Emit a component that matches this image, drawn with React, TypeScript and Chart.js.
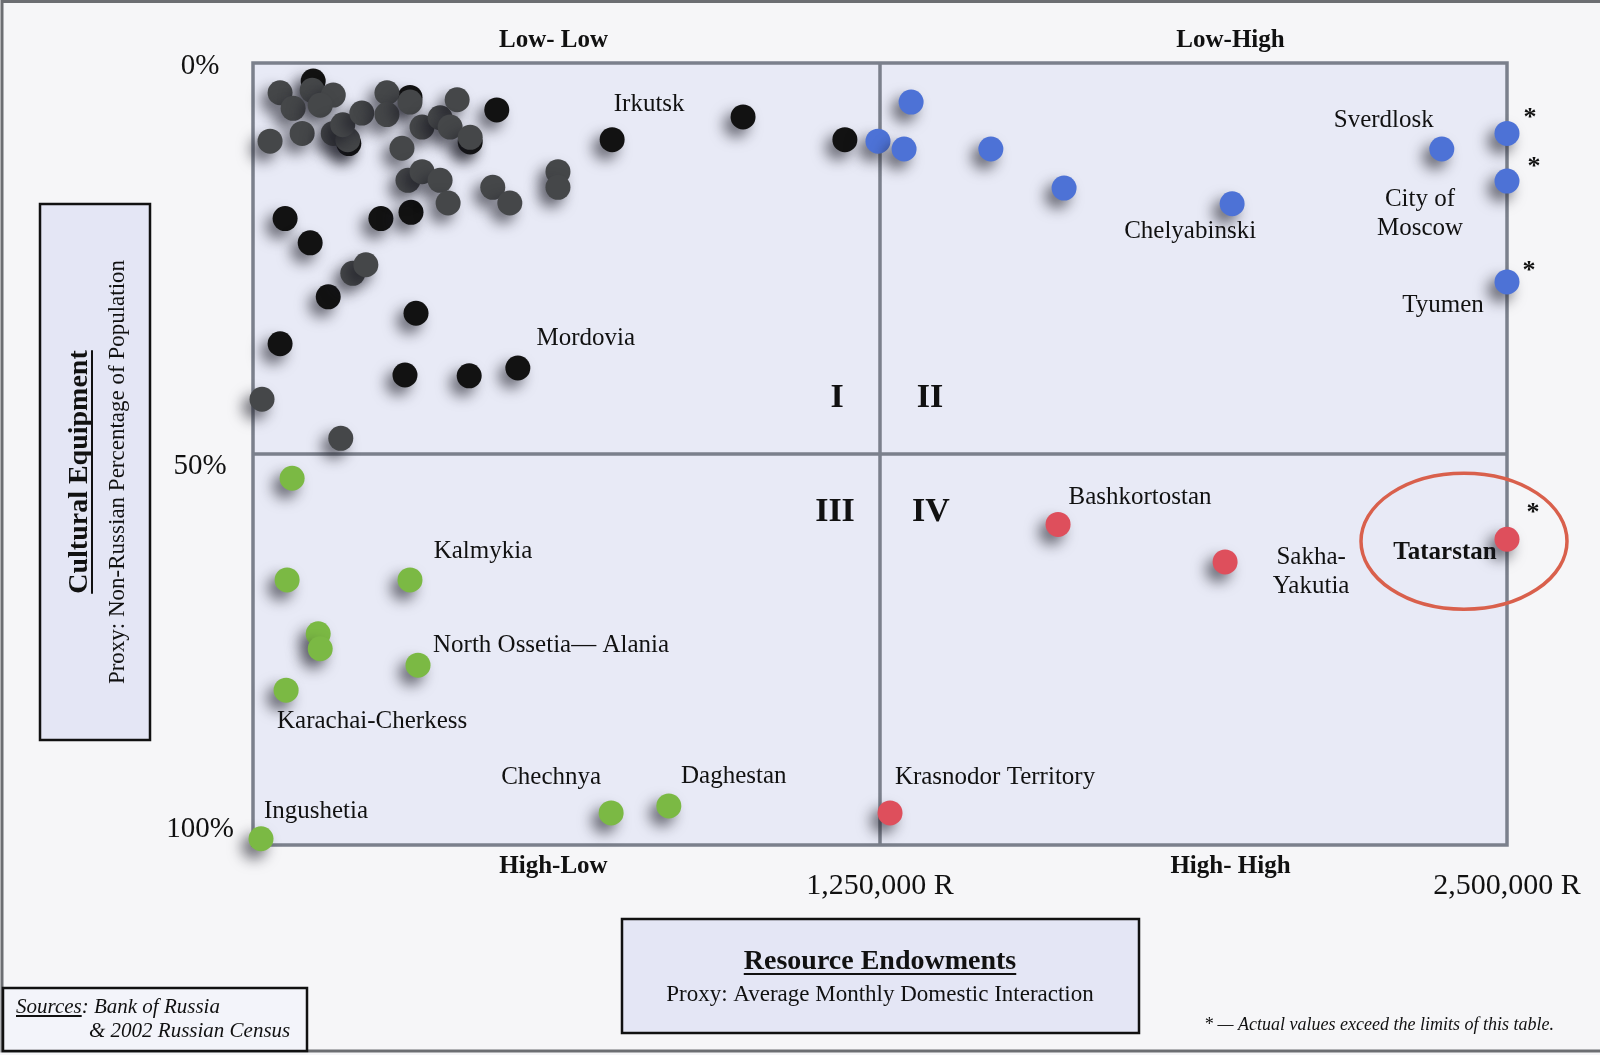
import React, { useEffect, useRef } from "react";
import { Chart, registerables } from "chart.js";

Chart.register(...registerables);

// ---------- scale definition ----------
const X_MAX = 2500000;
const Y_MAX = 100;
const X_SPLIT = 1250000;
const Y_SPLIT = 50;

const xTickValues = [1250000, 2500000];
const xTickLabels = ["1,250,000 R", "2,500,000 R"];
const yTickValues = [0, 50, 100];
const yTickLabels = ["0%", "50%", "100%"];

const quadrantNames = ["Low- Low", "Low-High", "High-Low", "High- High"];
const quadrantNumerals = ["I", "II", "III", "IV"];

// ---------- data (x: average monthly domestic interaction, R; y: non-Russian %) ----------
const grayX = [54000, 118000, 160000, 80000, 134000, 98000, 34000, 160000, 189000, 179000, 217000, 267000, 267000, 313000, 337000, 373000, 407000, 393000, 433000, 297000, 309000, 337000, 373000, 389000, 478000, 512000, 608000, 608000, 199000, 225000, 18000, 175000];
const grayY = [3.8, 3.5, 4.1, 5.8, 5.4, 9.0, 10.0, 9.0, 9.8, 7.9, 6.4, 3.8, 6.6, 5.0, 8.2, 7.0, 4.7, 8.2, 9.5, 10.9, 15.0, 13.9, 15.0, 17.9, 15.9, 17.9, 13.9, 15.9, 26.9, 25.8, 43.0, 48.0];

const blackX = [486000, 716000, 977000, 1180000, 64000, 114000, 255000, 315000, 150000, 325000, 54000, 303000, 431000, 528000, 120000, 191000, 433000, 313000];
const blackY = [6.0, 9.8, 6.9, 9.8, 19.9, 23.0, 19.9, 19.1, 29.9, 32.0, 35.9, 39.9, 40.0, 39.0, 2.3, 10.3, 10.1, 4.4];

const blueX = [1312000, 1246000, 1298000, 1471000, 1617000, 1952000, 2370000, 2500000, 2500000, 2500000];
const blueY = [5.0, 10.0, 11.0, 11.0, 16.0, 18.0, 11.0, 9.0, 15.1, 28.0];

const redX = [1270000, 1605000, 1938000, 2500000];
const redY = [95.9, 59.0, 63.8, 60.9];

const greenX = [78000, 68000, 313000, 130000, 134000, 329000, 66000, 16000, 714000, 829000];
const greenY = [53.1, 66.1, 66.1, 73.0, 74.9, 77.0, 80.2, 99.2, 95.9, 95.0];

const seriesValues: Record<string, [number[], number[]]> = {
  gray: [grayX, grayY],
  black: [blackX, blackY],
  blue: [blueX, blueY],
  red: [redX, redY],
  green: [greenX, greenY],
};

// points whose actual values exceed the table
const exceedMarks = [
  { series: "blue", index: 7, dx: 23, dy: -21 },
  { series: "blue", index: 8, dx: 27, dy: -20 },
  { series: "blue", index: 9, dx: 22, dy: -17 },
  { series: "red", index: 3, dx: 26, dy: -32 },
];

// ---------- annotation layout (pixel offsets from the marks) ----------
const regionLabels = [
  { lines: ["Irkutsk"], series: "black", index: 1, dx: 37, dy: -35 },
  { lines: ["Mordovia"], series: "black", index: 13, dx: 68, dy: -30 },
  { lines: ["Sverdlosk"], series: "blue", index: 6, dx: -58, dy: -29 },
  { lines: ["Chelyabinski"], series: "blue", index: 5, dx: -42, dy: 28 },
  { lines: ["City of", "Moscow"], series: "blue", index: 8, dx: -87, dy: 18 },
  { lines: ["Tyumen"], series: "blue", index: 9, dx: -64, dy: 23 },
  { lines: ["Bashkortostan"], series: "red", index: 1, dx: 82, dy: -27 },
  { lines: ["Sakha-", "Yakutia"], series: "red", index: 2, dx: 86, dy: -4 },
  { lines: ["Tatarstan"], series: "red", index: 3, dx: -62, dy: 13, bold: true },
  { lines: ["Kalmykia"], series: "green", index: 2, dx: 73, dy: -28 },
  { lines: ["North Ossetia\u2014 Alania"], series: "green", index: 5, dx: 133, dy: -20 },
  { lines: ["Karachai-Cherkess"], series: "green", index: 6, dx: 86, dy: 31 },
  { lines: ["Chechnya"], series: "green", index: 8, dx: -60, dy: -36 },
  { lines: ["Daghestan"], series: "green", index: 9, dx: 65, dy: -29 },
  { lines: ["Ingushetia"], series: "green", index: 7, dx: 55, dy: -27 },
  { lines: ["Krasnodor Territory"], series: "red", index: 0, dx: 105, dy: -36 },
];

const SERIF = '"Liberation Serif", "Times New Roman", serif';
const COLORS = {
  gray: "#454749",
  black: "#121212",
  blue: "#4d72d6",
  red: "#de4f5c",
  green: "#7bb944",
  page: "#f6f6f8",
  plot: "#e8eaf6",
  box: "#e4e6f5",
  line: "#7b808c",
  ink: "#111111",
  ellipse: "#d9604c",
};

function toPoints(xs: number[], ys: number[]) {
  return xs.map((x, i) => ({ x, y: ys[i] }));
}

function drawText(ctx: CanvasRenderingContext2D, s: string, x: number, y: number, font: string, align: CanvasTextAlign = "center") {
  ctx.font = font;
  ctx.fillStyle = COLORS.ink;
  ctx.textAlign = align;
  ctx.textBaseline = "middle";
  ctx.fillText(s, x, y);
}

function underline(ctx: CanvasRenderingContext2D, s: string, x: number, y: number, font: string, align: "center" | "left", off: number) {
  ctx.font = font;
  const w = ctx.measureText(s).width;
  const x0 = align === "center" ? x - w / 2 : x;
  ctx.strokeStyle = COLORS.ink;
  ctx.lineWidth = 2;
  ctx.beginPath();
  ctx.moveTo(x0, y + off);
  ctx.lineTo(x0 + w, y + off);
  ctx.stroke();
}

function box(ctx: CanvasRenderingContext2D, x: number, y: number, w: number, h: number, fill: string) {
  ctx.fillStyle = fill;
  ctx.fillRect(x, y, w, h);
  ctx.strokeStyle = COLORS.ink;
  ctx.lineWidth = 2.5;
  ctx.strokeRect(x, y, w, h);
}

function px(chart: any, series: string, index: number) {
  const [xs, ys] = seriesValues[series];
  return {
    x: chart.scales.x.getPixelForValue(xs[index]),
    y: chart.scales.y.getPixelForValue(ys[index]),
  };
}

const decorPlugin = {
  id: "decor",
  beforeDraw(chart: any) {
    const { ctx, chartArea: a, scales } = chart;
    ctx.save();
    ctx.fillStyle = COLORS.page;
    ctx.fillRect(0, 0, chart.width, chart.height);
    // outer frame
    ctx.strokeStyle = "#6c6e72";
    ctx.lineWidth = 3;
    ctx.beginPath();
    ctx.moveTo(chart.width, 1.5);
    ctx.lineTo(2, 1.5);
    ctx.lineTo(2, chart.height - 4);
    ctx.lineTo(chart.width, chart.height - 4);
    ctx.stroke();
    // plot area
    ctx.fillStyle = COLORS.plot;
    ctx.fillRect(a.left, a.top, a.right - a.left, a.bottom - a.top);
    const cx = scales.x.getPixelForValue(X_SPLIT);
    const cy = scales.y.getPixelForValue(Y_SPLIT);
    ctx.strokeStyle = COLORS.line;
    ctx.lineWidth = 3.5;
    ctx.strokeRect(a.left, a.top, a.right - a.left, a.bottom - a.top);
    ctx.beginPath();
    ctx.moveTo(cx, a.top);
    ctx.lineTo(cx, a.bottom);
    ctx.moveTo(a.left, cy);
    ctx.lineTo(a.right, cy);
    ctx.stroke();
    ctx.restore();
  },
  beforeDatasetsDraw(chart: any) {
    const { ctx } = chart;
    ctx.save();
    // region labels (behind the marks)
    for (const l of regionLabels) {
      const p = px(chart, l.series, l.index);
      const font = `${l.bold ? "bold " : ""}25px ${SERIF}`;
      l.lines.forEach((s, i) => drawText(ctx, s, p.x + l.dx, p.y + l.dy + i * 29, font));
    }
    ctx.restore();
    ctx.save();
    ctx.shadowColor = "rgba(25,25,35,0.6)";
    ctx.shadowBlur = 14;
    ctx.shadowOffsetX = -7;
    ctx.shadowOffsetY = 8;
  },
  afterDatasetsDraw(chart: any) {
    chart.ctx.restore();
  },
  afterDraw(chart: any) {
    const { ctx, chartArea: a, scales } = chart;
    ctx.save();
    const cx = scales.x.getPixelForValue(X_SPLIT);
    const cy = scales.y.getPixelForValue(Y_SPLIT);

    // tick labels
    const yOffsets = [3, 12, -16];
    yTickValues.forEach((v, i) => {
      drawText(ctx, yTickLabels[i], a.left - 53, scales.y.getPixelForValue(v) + yOffsets[i], `29px ${SERIF}`);
    });
    xTickValues.forEach((v, i) => {
      drawText(ctx, xTickLabels[i], scales.x.getPixelForValue(v), a.bottom + 41, `30px ${SERIF}`);
    });

    // quadrant names
    const qb = `bold 25px ${SERIF}`;
    const leftX = (a.left + cx) / 2 - 13;
    const rightX = (cx + a.right) / 2 + 37;
    drawText(ctx, quadrantNames[0], leftX, a.top - 22, qb);
    drawText(ctx, quadrantNames[1], rightX, a.top - 22, qb);
    drawText(ctx, quadrantNames[2], leftX, a.bottom + 22, qb);
    drawText(ctx, quadrantNames[3], rightX, a.bottom + 22, qb);

    // roman numerals
    const nb = `bold 34px ${SERIF}`;
    drawText(ctx, quadrantNumerals[0], cx - 43, cy - 56, nb);
    drawText(ctx, quadrantNumerals[1], cx + 50, cy - 56, nb);
    drawText(ctx, quadrantNumerals[2], cx - 45, cy + 58, nb);
    drawText(ctx, quadrantNumerals[3], cx + 51, cy + 58, nb);

    // asterisks
    for (const m of exceedMarks) {
      const p = px(chart, m.series, m.index);
      drawText(ctx, "*", p.x + m.dx, p.y + m.dy + 6, `bold 26px ${SERIF}`);
    }

    // Tatarstan ellipse
    const t = px(chart, "red", 3);
    ctx.strokeStyle = COLORS.ellipse;
    ctx.lineWidth = 3.5;
    ctx.beginPath();
    ctx.ellipse(t.x - 43, t.y + 2, 103, 68, 0, 0, Math.PI * 2);
    ctx.stroke();

    // y axis title box
    box(ctx, 40, 204, 110, 536, COLORS.box);
    ctx.save();
    ctx.translate(80, 472);
    ctx.rotate(-Math.PI / 2);
    const tf = `bold 28px ${SERIF}`;
    drawText(ctx, "Cultural Equipment", 0, 0, tf);
    underline(ctx, "Cultural Equipment", 0, 0, tf, "center", 12);
    ctx.restore();
    ctx.save();
    ctx.translate(118, 472);
    ctx.rotate(-Math.PI / 2);
    drawText(ctx, "Proxy: Non-Russian Percentage of Population", 0, 0, `23px ${SERIF}`);
    ctx.restore();

    // x axis title box
    box(ctx, 622, 919, 517, 114, COLORS.box);
    drawText(ctx, "Resource Endowments", 880, 962, tf);
    underline(ctx, "Resource Endowments", 880, 962, tf, "center", 12);
    drawText(ctx, "Proxy: Average Monthly Domestic Interaction", 880, 995, `23px ${SERIF}`);

    // sources box
    box(ctx, 3, 988, 304, 63, "#f3f4fa");
    const sf = `italic 21px ${SERIF}`;
    drawText(ctx, "Sources", 16, 1007, sf, "left");
    underline(ctx, "Sources", 16, 1007, sf, "left", 9);
    ctx.font = sf;
    const sw = ctx.measureText("Sources").width;
    drawText(ctx, ": Bank of Russia", 16 + sw, 1007, sf, "left");
    drawText(ctx, "& 2002 Russian Census", 89, 1031, sf, "left");

    // footnote
    drawText(ctx, "* \u2014 Actual values exceed the limits of this table.", 1554, 1025, `italic 18px ${SERIF}`, "right");
    ctx.restore();
  },
};

export default function App() {
  const ref = useRef<HTMLCanvasElement | null>(null);
  useEffect(() => {
    document.body.style.margin = "0";
    const canvas = ref.current!;
    const mk = (data: any[], color: string) => ({
      data,
      backgroundColor: color,
      borderWidth: 0,
      pointRadius: 12.5,
      pointHoverRadius: 12.5,
      clip: false as const,
    });
    const chart = new Chart(canvas, {
      type: "scatter",
      data: {
        datasets: [
          mk(toPoints(greenX, greenY), COLORS.green),
          mk(toPoints(redX, redY), COLORS.red),
          mk(toPoints(blueX, blueY), COLORS.blue),
          mk(toPoints(grayX, grayY), COLORS.gray),
          mk(toPoints(blackX, blackY), COLORS.black),
        ],
      },
      options: {
        animation: false,
        responsive: false,
        devicePixelRatio: 1,
        events: [],
        layout: { padding: { left: 253, top: 63, right: 93, bottom: 210 } },
        plugins: { legend: { display: false }, tooltip: { enabled: false } },
        scales: {
          x: { type: "linear", min: 0, max: X_MAX, display: false },
          y: { type: "linear", min: 0, max: Y_MAX, reverse: true, display: false },
        },
      },
      plugins: [decorPlugin],
    });
    return () => chart.destroy();
  }, []);
  return <canvas ref={ref} width={1600} height={1055} style={{ display: "block", width: 1600, height: 1055 }} />;
}
